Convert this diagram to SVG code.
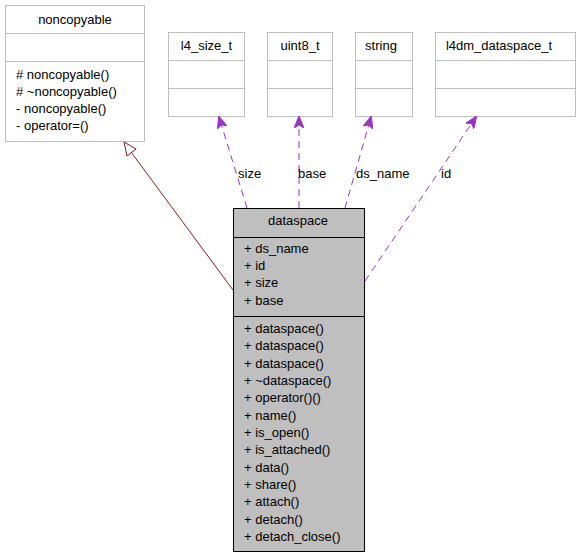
<svg xmlns="http://www.w3.org/2000/svg" width="579" height="557" viewBox="0 0 579 557">
<style>
text{font-family:"Liberation Sans",Arial,Helvetica,sans-serif;font-size:13px;fill:#000}
.c{text-anchor:middle}
.box{fill:#fff;stroke:#bfbfbf;stroke-width:1}
.main{fill:#bfbfbf;stroke:#000;stroke-width:1}
.dep{fill:none;stroke:#9a32cd;stroke-width:1;stroke-dasharray:7,5}
.inh{fill:none;stroke:#8b1a1a;stroke-width:1}
</style>
<defs>
<marker id="ah" viewBox="0 0 12 10" refX="11" refY="5" markerWidth="12" markerHeight="10" markerUnits="userSpaceOnUse" orient="auto">
<path d="M0,0 L12,5 L0,10 L3,5 Z" fill="#9a32cd" stroke="#9a32cd" stroke-width="1"/>
</marker>
</defs>
<rect width="579" height="557" fill="#fff"/>
<g id="noncopyable">
<rect class="box" x="5.5" y="5.5" width="139" height="136"/>
<line x1="5.5" y1="33.5" x2="144.5" y2="33.5" stroke="#bfbfbf"/>
<line x1="5.5" y1="61.5" x2="144.5" y2="61.5" stroke="#bfbfbf"/>
<text class="c" x="75" y="24">noncopyable</text>
<text x="16" y="78.5">#  noncopyable()</text>
<text x="16" y="95.8">#  ~noncopyable()</text>
<text x="16" y="113">- noncopyable()</text>
<text x="16" y="130">- operator=()</text>
</g>
<g id="l4_size_t">
<rect class="box" x="168.5" y="32.5" width="76" height="84"/>
<line x1="168.5" y1="60.5" x2="244.5" y2="60.5" stroke="#bfbfbf"/>
<line x1="168.5" y1="88.5" x2="244.5" y2="88.5" stroke="#bfbfbf"/>
<text class="c" x="206.5" y="50">l4_size_t</text>
</g>
<g id="uint8_t">
<rect class="box" x="267.5" y="32.5" width="65" height="84"/>
<line x1="267.5" y1="60.5" x2="332.5" y2="60.5" stroke="#bfbfbf"/>
<line x1="267.5" y1="88.5" x2="332.5" y2="88.5" stroke="#bfbfbf"/>
<text class="c" x="300" y="50">uint8_t</text>
</g>
<g id="string">
<rect class="box" x="355.5" y="32.5" width="57" height="84"/>
<line x1="355.5" y1="60.5" x2="412.5" y2="60.5" stroke="#bfbfbf"/>
<line x1="355.5" y1="88.5" x2="412.5" y2="88.5" stroke="#bfbfbf"/>
<text class="c" x="381" y="50">string</text>
</g>
<g id="l4dm_dataspace_t">
<rect class="box" x="435.5" y="32.5" width="140" height="84"/>
<line x1="435.5" y1="60.5" x2="575.5" y2="60.5" stroke="#bfbfbf"/>
<line x1="435.5" y1="88.5" x2="575.5" y2="88.5" stroke="#bfbfbf"/>
<text class="c" x="499" y="50">l4dm_dataspace_t</text>
</g>
<g id="dataspace">
<rect class="main" x="233.5" y="208.5" width="131" height="343"/>
<line x1="233.5" y1="237.5" x2="364.5" y2="237.5" stroke="#000"/>
<line x1="233.5" y1="316.5" x2="364.5" y2="316.5" stroke="#000"/>
<text class="c" x="298" y="225">dataspace</text>
<text x="244" y="252.5">+ ds_name</text>
<text x="244" y="270">+ id</text>
<text x="244" y="287.3">+ size</text>
<text x="244" y="304.6">+ base</text>
<text x="244" y="333">+ dataspace()</text>
<text x="244" y="350.3">+ dataspace()</text>
<text x="244" y="367.7">+ dataspace()</text>
<text x="244" y="385">+ ~dataspace()</text>
<text x="244" y="402.3">+ operator()()</text>
<text x="244" y="419.7">+ name()</text>
<text x="244" y="437">+ is_open()</text>
<text x="244" y="454.3">+ is_attached()</text>
<text x="244" y="471.7">+ data()</text>
<text x="244" y="489">+ share()</text>
<text x="244" y="506.3">+ attach()</text>
<text x="244" y="523.7">+ detach()</text>
<text x="244" y="541">+ detach_close()</text>
</g>
<g id="connectors">
<line class="inh" x1="233" y1="290" x2="131" y2="152"/>
<polygon points="124,142 136,149 127,156" fill="#fff" stroke="#8b1a1a" stroke-width="1"/>
<line class="dep" x1="247" y1="208" x2="219" y2="117" marker-end="url(#ah)"/>
<line class="dep" x1="299" y1="208" x2="299" y2="117" marker-end="url(#ah)"/>
<line class="dep" x1="345" y1="208" x2="371" y2="117" marker-end="url(#ah)"/>
<line class="dep" x1="365" y1="281" x2="476" y2="117" marker-end="url(#ah)"/>
<text x="238" y="177.5">size</text>
<text x="298" y="177.5">base</text>
<text x="356" y="177.5">ds_name</text>
<text x="441" y="177.5">id</text>
</g>
</svg>
